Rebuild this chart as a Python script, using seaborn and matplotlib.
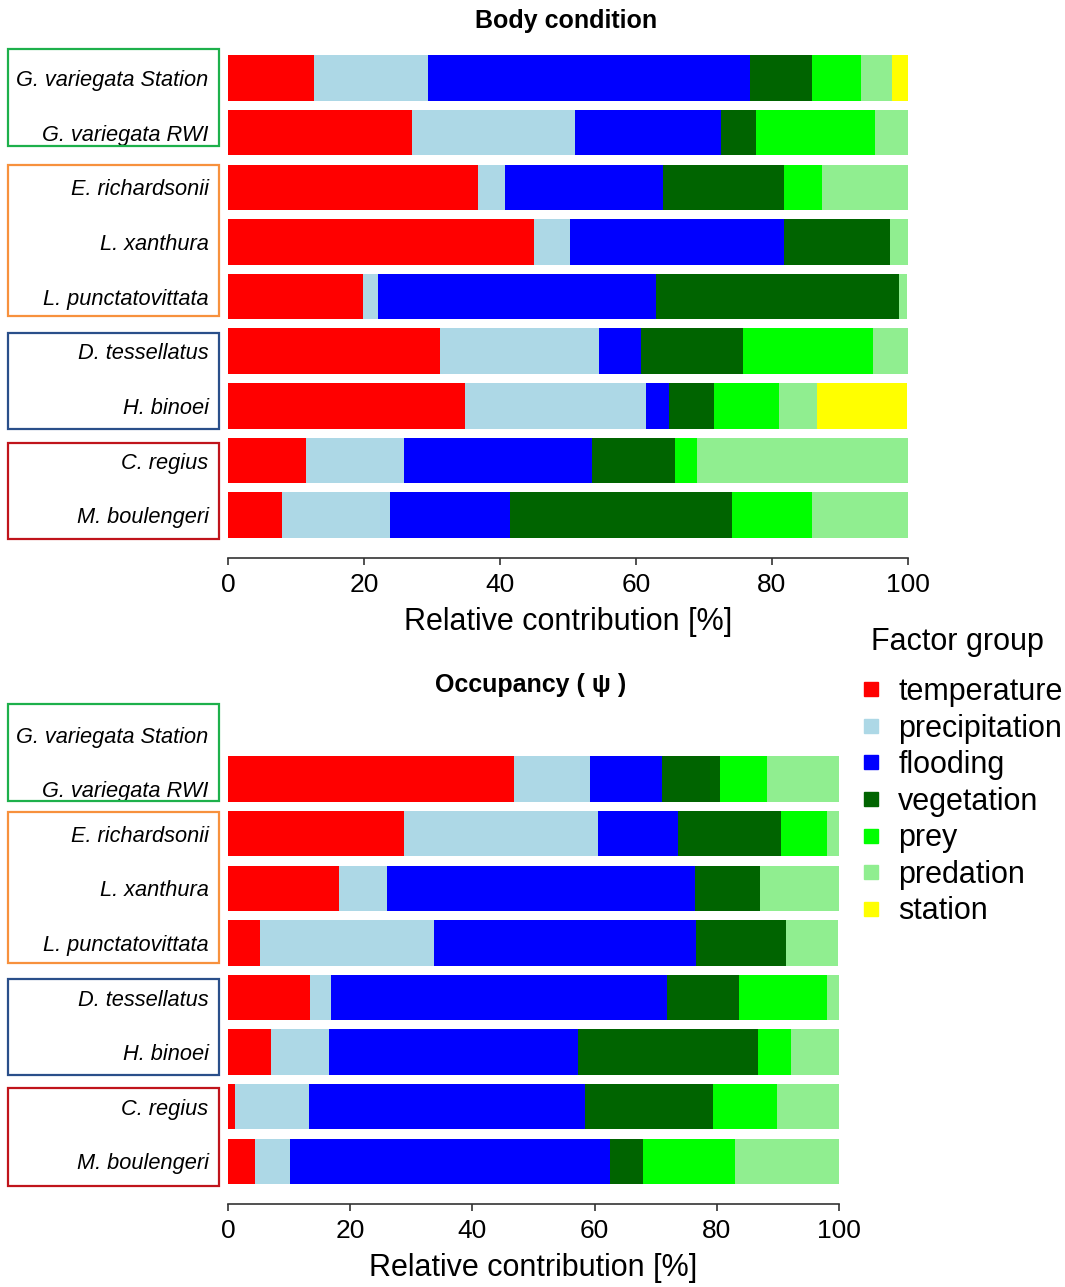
import numpy as np
import pandas as pd
import matplotlib
matplotlib.use("Agg")
import matplotlib.pyplot as plt
import matplotlib.transforms as mtransforms
from matplotlib.patches import Rectangle
from matplotlib.lines import Line2D
import seaborn as sns

# ---------------------------------------------------------------- data
species = [
    "G. variegata Station", "G. variegata RWI", "E. richardsonii",
    "L. xanthura", "L. punctatovittata", "D. tessellatus",
    "H. binoei", "C. regius", "M. boulengeri",
]
factors = ["temperature", "precipitation", "flooding", "vegetation",
           "prey", "predation", "station"]
factor_colors = ["#FF0000", "#ADD8E6", "#0000FF", "#006400",
                 "#00FF00", "#90EE90", "#FFFF00"]

# Body condition: relative contribution [%] of each factor group
bc_temperature = [12.7, 27.1, 36.8, 45.0, 19.8, 31.2, 34.9, 11.4, 8.0]
bc_precipitation = [16.7, 24.0, 4.0, 5.3, 2.2, 23.4, 26.5, 14.5, 15.8]
bc_flooding = [47.3, 21.4, 23.1, 31.5, 41.0, 6.2, 3.5, 27.6, 17.6]
bc_vegetation = [9.2, 5.1, 17.8, 15.5, 35.7, 15.0, 6.6, 12.2, 32.7]
bc_prey = [7.2, 17.6, 5.6, 0.0, 0.0, 19.1, 9.5, 3.2, 11.8]
bc_predation = [4.6, 4.9, 12.7, 2.8, 1.2, 5.1, 5.6, 31.1, 14.1]
bc_station = [2.3, 0.0, 0.0, 0.0, 0.0, 0.0, 13.3, 0.0, 0.0]

# Occupancy (psi): no model for the station population
occ_temperature = [np.nan, 46.8, 28.8, 18.1, 5.3, 13.5, 7.1, 1.2, 4.4]
occ_precipitation = [np.nan, 12.4, 31.8, 8.0, 28.4, 3.4, 9.4, 12.1, 5.8]
occ_flooding = [np.nan, 11.8, 13.0, 50.3, 42.9, 55.0, 40.8, 45.1, 52.4]
occ_vegetation = [np.nan, 9.6, 16.9, 10.7, 14.8, 11.8, 29.4, 20.9, 5.4]
occ_prey = [np.nan, 7.6, 7.6, 0.0, 0.0, 14.4, 5.5, 10.5, 15.0]
occ_predation = [np.nan, 11.8, 1.9, 12.9, 8.5, 1.9, 7.9, 10.2, 17.0]
occ_station = [np.nan, 0.0, 0.0, 0.0, 0.0, 0.0, 0.0, 0.0, 0.0]

group_colors = ["#1DB04B", "#F7913D", "#2A4F8A", "#C0141B"]

body = pd.DataFrame(
    dict(zip(factors, [bc_temperature, bc_precipitation, bc_flooding,
                       bc_vegetation, bc_prey, bc_predation, bc_station])),
    index=species)
occupancy = pd.DataFrame(
    dict(zip(factors, [occ_temperature, occ_precipitation, occ_flooding,
                       occ_vegetation, occ_prey, occ_predation, occ_station])),
    index=species)

# ---------------------------------------------------------------- style
sns.set_style("white")
plt.rcParams["font.family"] = ["Liberation Sans", "DejaVu Sans"]
plt.rcParams["text.color"] = "black"
plt.rcParams["axes.labelcolor"] = "black"

W, H = 1065, 1287
fig = plt.figure(figsize=(W / 100, H / 100), dpi=100)

ax_top = fig.add_axes([228 / W, 1 - 558 / H, 680 / W, 518 / H])
ax_bot = fig.add_axes([228 / W, 1 - 1204 / H, 611 / W, 504 / H])

AXIS_COLOR = "#333333"


def draw_panel(ax, table, ylim, boxes):
    cum = table.cumsum(axis=1)
    # stacked bars: draw cumulative totals from the last factor backwards
    for fac, col in zip(factors[::-1], factor_colors[::-1]):
        sns.barplot(x=cum[fac].values, y=species, order=species, orient="h",
                    color=col, saturation=1, width=0.833, errorbar=None,
                    linewidth=0, ax=ax)
    ax.set_xlim(0, 100)
    ax.set_ylim(*ylim)
    for s in ("top", "right", "left"):
        ax.spines[s].set_visible(False)
    ax.spines["bottom"].set_color(AXIS_COLOR)
    ax.spines["bottom"].set_linewidth(1.2)
    ax.set_xticks([0, 20, 40, 60, 80, 100])
    ax.tick_params(axis="x", direction="out", length=5, width=1.2,
                   color=AXIS_COLOR, labelcolor="black", labelsize=19,
                   pad=6, bottom=True)
    ax.set_yticks(range(len(species)))
    ax.set_yticklabels(species, fontstyle="italic", fontsize=15.7)
    ax.tick_params(axis="y", length=0, pad=14, labelcolor="black")
    ax.set_xlabel("Relative contribution [%]", fontsize=22, labelpad=7)
    ax.set_ylabel("")
    ax.grid(False)

    # boxes grouping the species by habitat guild
    trans = mtransforms.blended_transform_factory(fig.transFigure, ax.transData)
    for (y0, y1), col in zip(boxes, group_colors):
        fig.add_artist(Rectangle((8 / W, y0), 211 / W, y1 - y0,
                                 transform=trans, fill=False,
                                 edgecolor=col, linewidth=1.6))


draw_panel(ax_top, body, (8.783, -0.695),
           [(-0.53, 1.24), (1.6, 4.36), (4.67, 6.42), (6.67, 8.44)])
draw_panel(ax_bot, occupancy, (8.782, -0.449),
           [(-0.375, 1.40), (1.6, 4.37), (4.66, 6.42), (6.66, 8.45)])

# the two G. variegata labels in the occupancy panel sit a little lower
shift = mtransforms.ScaledTranslation(0, -0.10, fig.dpi_scale_trans)
for lbl in ax_bot.get_yticklabels()[:2]:
    lbl.set_transform(lbl.get_transform() + shift)

fig.text(566 / W, 1 - 21 / H, "Body condition", ha="center", va="center",
         fontsize=18, fontweight="bold")
fig.text(531 / W, 1 - 685 / H, "Occupancy ( \u03c8 )", ha="center",
         va="center", fontsize=18, fontweight="bold")

# legend: heading drawn separately, entries below it
fig.text(871 / W, 1 - 642 / H, "Factor group", ha="left", va="center",
         fontsize=22)
handles = [Line2D([], [], marker="s", linestyle="none", markersize=9.5,
                  markerfacecolor=c, markeredgecolor=c) for c in factor_colors]
fig.legend(handles, factors, loc="upper left",
           bbox_to_anchor=(861 / W, 1 - 677 / H), frameon=False,
           fontsize=22, handlelength=0.64, handletextpad=0.58,
           labelspacing=0.215, borderpad=0, borderaxespad=0)

fig.savefig("out.png", dpi=100)
